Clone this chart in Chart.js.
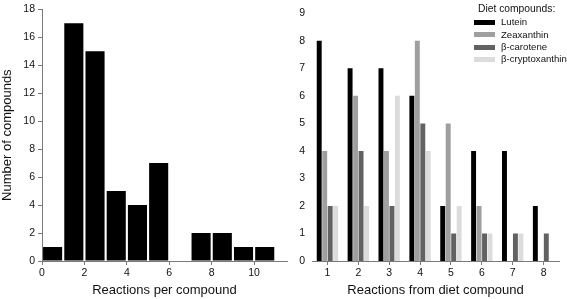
<!DOCTYPE html>
<html>
<head>
<meta charset="utf-8">
<script src="https://cdn.jsdelivr.net/npm/chart.js@4"></script>
<style>
    html, body { margin: 0; padding: 0; background: #fff; }
    body { width: 567px; height: 299px; position: relative; overflow: hidden; font-family: "Liberation Sans", Arial, sans-serif; }
    .panel { position: absolute; top: 0; height: 299px; }
    #left-panel { left: 0; width: 290px; }
    #right-panel { left: 290px; width: 277px; }
    #legend { position: absolute; left: 474px; top: 3px; font-size: 9.6px; color: #111; line-height: 12.3px; white-space: nowrap; }
    #legend .title { margin-left: 4px; margin-bottom: 1px; font-size: 10.3px; }
    #legend .item { display: flex; align-items: center; height: 12.3px; }
    #legend .swatch { width: 21px; height: 5px; margin-right: 6px; flex: none; }
</style>
</head>
<body>
<div class="panel" id="left-panel"><canvas id="hist-chart"></canvas></div>
<div class="panel" id="right-panel"><canvas id="diet-chart"></canvas></div>
<div id="legend"></div>
<script>
// left panel: histogram of reactions per compound (bins of width 1)
const histBinStarts = [0, 1, 2, 3, 4, 5, 6, 7, 8, 9, 10];
const histCounts = [1, 17, 15, 5, 4, 7, 0, 2, 2, 1, 1];

// right panel: reactions from each diet compound
const dietReactions = ["1", "2", "3", "4", "5", "6", "7", "8"];
const luteinCounts = [8, 7, 7, 6, 2, 4, 4, 2];
const zeaxanthinCounts = [4, 6, 4, 8, 5, 2, 0, 0];
const caroteneCounts = [2, 4, 2, 5, 1, 1, 1, 1];
const cryptoxanthinCounts = [2, 2, 6, 4, 2, 1, 1, 0];

const seriesNames = ["Lutein", "Zeaxanthin", "\u03b2-carotene", "\u03b2-cryptoxanthin"];
const seriesColors = ["#000000", "#9f9f9f", "#626262", "#dcdcdc"];

const AXIS = "#7a7a7a";
const TEXT = "#111";
const FONT = "'Liberation Sans', Arial, sans-serif";

Chart.defaults.font.family = FONT;
Chart.defaults.color = TEXT;
Chart.defaults.animation = false;

function fixWidth(w) { return function (s) { s.width = w; }; }
function fixHeight(h) { return function (s) { s.height = h; }; }

const histChart = new Chart(document.getElementById("hist-chart"), {
    type: "bar",
    data: {
        datasets: [{
            data: histBinStarts.map(function (b, i) { return { x: b + 0.5, y: histCounts[i] }; }),
            backgroundColor: "#000",
            barPercentage: 0.9,
            categoryPercentage: 1
        }]
    },
    options: {
        responsive: true,
        maintainAspectRatio: false,
        layout: { padding: { top: 5, right: 3, left: 0, bottom: 0 } },
        plugins: { legend: { display: false }, tooltip: { enabled: false } },
        scales: {
            x: {
                type: "linear",
                min: 0,
                max: 11.55,
                offset: false,
                afterFit: fixHeight(38),
                border: { color: AXIS, width: 1 },
                grid: { display: true, offset: false, drawOnChartArea: false, tickLength: 4, color: AXIS },
                ticks: { stepSize: 2, includeBounds: false, font: { size: 10.5 }, padding: 2, color: TEXT },
                title: { display: true, text: "Reactions per compound", font: { size: 13 }, padding: { top: 0, bottom: 1 }, color: TEXT }
            },
            y: {
                min: 0,
                max: 18,
                afterFit: fixWidth(42),
                border: { color: AXIS, width: 1 },
                grid: { display: true, drawOnChartArea: false, tickLength: 4, color: AXIS },
                ticks: { stepSize: 2, font: { size: 10.5 }, padding: 3, color: TEXT },
                title: { display: true, text: "Number of compounds", font: { size: 13 }, padding: { top: 0, bottom: 0 }, color: TEXT }
            }
        }
    }
});

const dietSeries = [luteinCounts, zeaxanthinCounts, caroteneCounts, cryptoxanthinCounts];

const dietChart = new Chart(document.getElementById("diet-chart"), {
    type: "bar",
    data: {
        labels: dietReactions,
        datasets: dietSeries.map(function (vals, i) {
            return {
                label: seriesNames[i],
                data: vals,
                backgroundColor: seriesColors[i],
                barPercentage: 0.9,
                categoryPercentage: 0.71
            };
        })
    },
    options: {
        responsive: true,
        maintainAspectRatio: false,
        layout: { padding: { top: 5, right: 8, left: 0, bottom: 0 } },
        plugins: { legend: { display: false }, tooltip: { enabled: false } },
        scales: {
            x: {
                afterFit: fixHeight(38),
                border: { color: AXIS, width: 1 },
                grid: { display: true, offset: false, drawOnChartArea: false, tickLength: 4, color: AXIS },
                ticks: { font: { size: 10.5 }, padding: 2, color: TEXT },
                title: { display: true, text: "Reactions from diet compound", font: { size: 13 }, padding: { top: 0, bottom: 1 }, color: TEXT }
            },
            y: {
                min: 0,
                max: 9,
                afterFit: fixWidth(22),
                border: { display: false },
                grid: { display: false, drawTicks: false },
                ticks: { stepSize: 1, font: { size: 10.5 }, padding: 7, color: TEXT }
            }
        }
    }
});

// legend built from the same series arrays
const legend = document.getElementById("legend");
const legendTitle = document.createElement("div");
legendTitle.className = "title";
legendTitle.textContent = "Diet compounds:";
legend.appendChild(legendTitle);
seriesNames.forEach(function (name, i) {
    const row = document.createElement("div");
    row.className = "item";
    const sw = document.createElement("span");
    sw.className = "swatch";
    sw.style.background = seriesColors[i];
    const txt = document.createElement("span");
    txt.textContent = name;
    row.appendChild(sw);
    row.appendChild(txt);
    legend.appendChild(row);
});
</script>
</body>
</html>
